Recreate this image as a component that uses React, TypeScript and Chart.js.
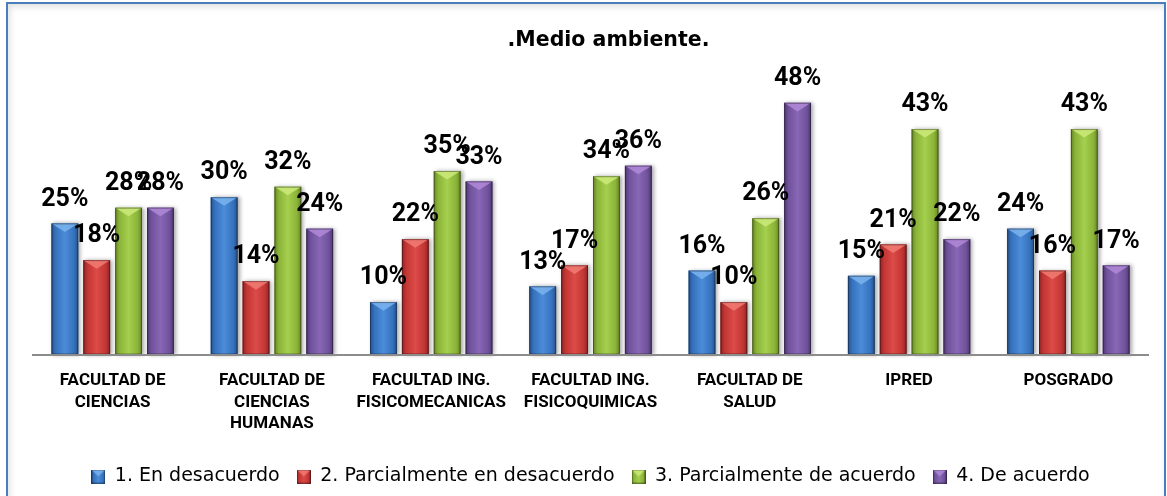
import React, { useEffect, useRef } from "react";
import { Chart, registerables } from "chart.js";

Chart.register(...registerables);

// ---------- data ----------
const chartTitle = ".Medio ambiente.";
const categories: string[][] = [
  ["FACULTAD DE", "CIENCIAS"],
  ["FACULTAD DE", "CIENCIAS", "HUMANAS"],
  ["FACULTAD ING.", "FISICOMECANICAS"],
  ["FACULTAD ING.", "FISICOQUIMICAS"],
  ["FACULTAD DE", "SALUD"],
  ["IPRED"],
  ["POSGRADO"],
];
const seriesNames = [
  "1. En desacuerdo",
  "2. Parcialmente en desacuerdo",
  "3. Parcialmente de acuerdo",
  "4. De acuerdo",
];
const enDesacuerdo = [25, 30, 10, 13, 16, 15, 24];
const parcialmenteEnDesacuerdo = [18, 14, 22, 17, 10, 21, 16];
const parcialmenteDeAcuerdo = [28, 32, 35, 34, 26, 43, 43];
const deAcuerdo = [28, 24, 33, 36, 48, 22, 17];
const yMin = 0;
const yMax = 55.6;

// ---------- styles ----------
type Shade = { dark: string; base: string; light: string; tip: string };
const palette: Shade[] = [
  { dark: "#27528c", base: "#3672be", light: "#4b8cd8", tip: "#7ab4ef" },
  { dark: "#8e2424", base: "#c23634", light: "#dc4b48", tip: "#f17b74" },
  { dark: "#668526", base: "#8bb438", light: "#a5cf4e", tip: "#cdea7a" },
  { dark: "#4e3770", base: "#70529b", light: "#8867b6", tip: "#b08ad8" },
];

function paintBar(
  ctx: CanvasRenderingContext2D,
  left: number,
  top: number,
  width: number,
  height: number,
  c: Shade,
  tipDepth: number,
  shadow: boolean
) {
  if (height <= 0 || width <= 0) return;
  const g = ctx.createLinearGradient(left, 0, left + width, 0);
  g.addColorStop(0, c.dark);
  g.addColorStop(0.16, c.base);
  g.addColorStop(0.5, c.light);
  g.addColorStop(0.84, c.base);
  g.addColorStop(1, c.dark);
  ctx.save();
  if (shadow) {
    ctx.shadowColor = "rgba(0,0,0,0.35)";
    ctx.shadowBlur = 4;
    ctx.shadowOffsetX = 2;
    ctx.shadowOffsetY = 0;
  }
  ctx.fillStyle = g;
  ctx.fillRect(left, top, width, height);
  ctx.restore();
  const d = Math.min(tipDepth, height);
  ctx.save();
  ctx.beginPath();
  ctx.moveTo(left, top);
  ctx.lineTo(left + width, top);
  ctx.lineTo(left + width / 2, top + d);
  ctx.closePath();
  ctx.fillStyle = c.tip;
  ctx.globalAlpha = 0.85;
  ctx.fill();
  ctx.restore();
  ctx.save();
  ctx.strokeStyle = "rgba(0,0,0,0.35)";
  ctx.lineWidth = 1;
  ctx.strokeRect(left + 0.5, top + 0.5, width - 1, height - 1);
  ctx.restore();
}

export default function App() {
  const canvasRef = useRef<HTMLCanvasElement | null>(null);

  useEffect(() => {
    const canvas = canvasRef.current;
    if (!canvas) return;

    const icons = palette.map((c) => {
      const cv = document.createElement("canvas");
      cv.width = 14;
      cv.height = 14;
      const x = cv.getContext("2d")!;
      paintBar(x, 0, 0, 14, 14, c, 7, false);
      return cv;
    });

    const seriesValues = [enDesacuerdo, parcialmenteEnDesacuerdo, parcialmenteDeAcuerdo, deAcuerdo];

    const barLook = {
      id: "barLook",
      afterDatasetsDraw(chart: any) {
        const ctx: CanvasRenderingContext2D = chart.ctx;
        chart.data.datasets.forEach((_ds: any, di: number) => {
          const meta = chart.getDatasetMeta(di);
          meta.data.forEach((bar: any) => {
            const p = bar.getProps(["x", "y", "base", "width"], true);
            const left = p.x - p.width / 2;
            const top = Math.min(p.y, p.base);
            const h = Math.abs(p.base - p.y);
            paintBar(ctx, left, top, p.width, h, palette[di], p.width * 0.32, true);
          });
        });
        ctx.save();
        ctx.fillStyle = "#000";
        ctx.font = "bold 25px Roboto";
        ctx.textAlign = "center";
        ctx.textBaseline = "middle";
        chart.data.datasets.forEach((ds: any, di: number) => {
          const meta = chart.getDatasetMeta(di);
          meta.data.forEach((bar: any, i: number) => {
            const p = bar.getProps(["x", "y"], true);
            ctx.fillText(`${ds.data[i]}%`, p.x, p.y - 24);
          });
        });
        ctx.restore();
      },
    };

    const titleDraw = {
      id: "titleDraw",
      afterDraw(chart: any) {
        const ctx: CanvasRenderingContext2D = chart.ctx;
        ctx.save();
        ctx.fillStyle = "#000";
        ctx.font = 'bold 20.5px "DejaVu Sans"';
        ctx.textAlign = "center";
        ctx.textBaseline = "middle";
        ctx.fillText(chartTitle, 608.5, 40.5);
        ctx.restore();
      },
    };

    const chart = new Chart(canvas, {
      type: "bar",
      data: {
        labels: categories,
        datasets: seriesNames.map((name, i) => ({
          label: name,
          data: seriesValues[i],
          backgroundColor: palette[i].base,
          borderWidth: 0,
          categoryPercentage: 0.8,
          barPercentage: 0.84,
        })),
      },
      options: {
        responsive: false,
        animation: false,
        events: [],
        layout: { padding: { top: 63, left: 33, right: 19, bottom: 0 } },
        scales: {
          x: {
            grid: { display: false },
            border: { display: true, color: "#8c8c8c", width: 2, z: 1 },
            ticks: {
              color: "#000",
              padding: 8,
              maxRotation: 0,
              autoSkip: false,
              font: { family: "Roboto", weight: "bold", size: 17, lineHeight: 1.25 },
            },
            afterFit: (s: any) => {
              s.height = 95.5;
            },
          },
          y: { display: false, min: yMin, max: yMax },
        },
        plugins: {
          title: { display: false },
          tooltip: { enabled: false },
          legend: {
            position: "bottom",
            labels: {
              usePointStyle: true,
              boxWidth: 14,
              boxHeight: 14,
              padding: 17,
              color: "#000",
              font: { family: "DejaVu Sans", size: 19 },
              generateLabels: (c: any) => {
                const items = (Chart.defaults.plugins.legend.labels as any).generateLabels(c);
                items.forEach((it: any, i: number) => {
                  it.pointStyle = icons[i];
                  it.rotation = 0;
                });
                return items;
              },
            },
          },
        },
      },
      plugins: [barLook, titleDraw],
    } as any);

    return () => chart.destroy();
  }, []);

  return (
    <div
      style={{
        position: "fixed",
        left: 0,
        top: 0,
        width: 1167,
        height: 496,
        overflow: "hidden",
        background: "#fff",
      }}
    >
      <div
        style={{
          position: "absolute",
          left: 6,
          top: 2,
          width: 1160,
          height: 600,
          boxSizing: "border-box",
          border: "2px solid #4a7ebb",
          boxShadow: "inset 2px 3px 6px rgba(0,0,0,0.12)",
        }}
      />
      <canvas
        ref={canvasRef}
        width={1167}
        height={496}
        style={{ position: "absolute", left: 0, top: 0, width: 1167, height: 496 }}
      />
    </div>
  );
}
